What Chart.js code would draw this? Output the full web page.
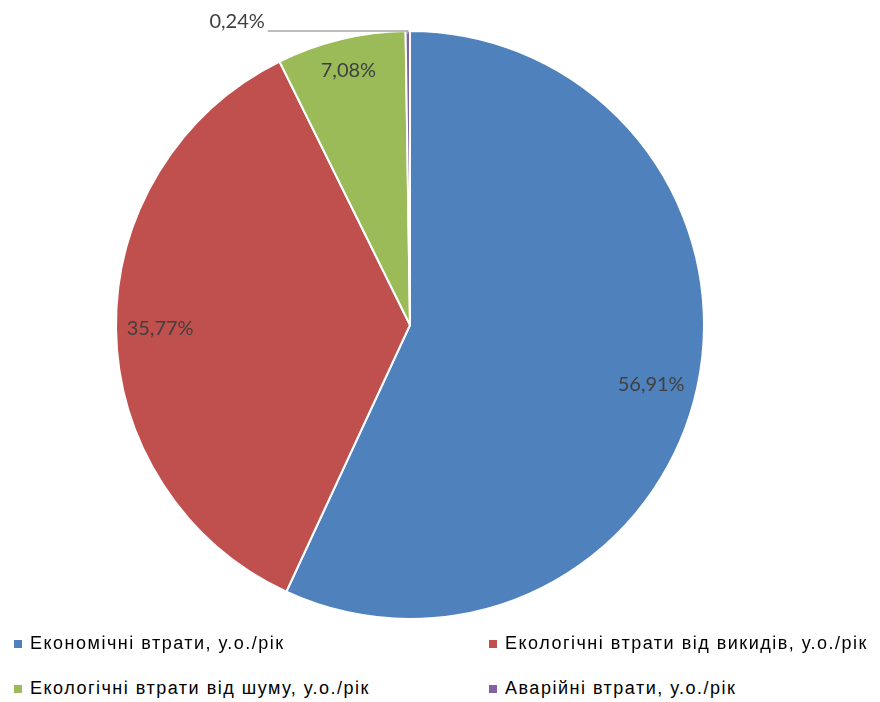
<!DOCTYPE html>
<html>
<head>
<meta charset="utf-8">
<script src="https://cdn.jsdelivr.net/npm/chart.js@4.4.1/dist/chart.umd.min.js"></script>
<style>
    body { margin: 0; background: #fff; }
    #wrap { position: relative; width: 880px; height: 702px; }
    #box { position: absolute; left: 0; top: 0; width: 820px; height: 650px; }
    .leg { position: absolute; font-family: "Liberation Sans", Arial, sans-serif; font-size: 18px; line-height: 21px; letter-spacing: 1.5px; color: #000; white-space: nowrap; }
    .leg i { position: absolute; left: -16px; top: 7px; width: 8px; height: 8px; }
</style>
</head>
<body>
<div id="wrap">
    <div id="box"><canvas id="myChart-pie"></canvas></div>
</div>
<script>
/*               pie chart for loss structure                           */

const categories = ['Економічні втрати, у.о./рік', 'Екологічні втрати від викидів, у.о./рік', 'Екологічні втрати від шуму, у.о./рік', 'Аварійні втрати, у.о./рік'];
const shares = [56.91, 35.77, 7.08, 0.24];
const shareLabels = ['56,91%', '35,77%', '7,08%', '0,24%'];
const colors = ['#4F81BD', '#C0504D', '#9BBB59', '#8064A2'];

// legend laid out in two columns under the pie
const legendSpots = [[30, 633], [505, 633], [30, 678], [505, 678]];
categories.forEach(function (name, i) {
    let d = document.createElement('div');
    d.className = 'leg';
    d.style.left = legendSpots[i][0] + 'px';
    d.style.top = legendSpots[i][1] + 'px';
    d.innerHTML = '<i style="background:' + colors[i] + '"></i>';
    d.appendChild(document.createTextNode(name));
    document.getElementById('wrap').appendChild(d);
});

// percent labels: inside the slice, tiny slice gets a leader line
const sliceLabels = {
    id: 'sliceLabels',
    afterDatasetsDraw(chart) {
        const c = chart.ctx;
        const arcs = chart.getDatasetMeta(0).data;
        const depth = [0.84, 0.85, 0.89];
        c.save();
        c.font = '20px Lato, "Liberation Sans", sans-serif';
        c.fillStyle = '#404040';
        c.textBaseline = 'middle';
        arcs.forEach(function (a, i) {
            const mid = (a.startAngle + a.endAngle) / 2;
            if (i < 3) {
                const r = a.outerRadius * depth[i];
                c.textAlign = 'center';
                c.fillText(shareLabels[i], a.x + Math.cos(mid) * r, a.y + Math.sin(mid) * r + (i === 0 ? 6 : 0));
            } else {
                const ex = a.x + Math.cos(mid) * a.outerRadius;
                const ey = a.y + Math.sin(mid) * a.outerRadius;
                c.strokeStyle = '#a6a6a6';
                c.lineWidth = 1.5;
                c.beginPath();
                c.moveTo(ex, ey + 3);
                c.lineTo(ex, ey);
                c.lineTo(ex - 140, ey);
                c.stroke();
                c.textAlign = 'right';
                c.fillText(shareLabels[i], ex - 143, ey - 9);
            }
        });
        c.restore();
    }
};

let ctx0 = document.getElementById('myChart-pie').getContext('2d');
var chart = new Chart(ctx0, {
    type: 'pie',
    data: {
        labels: categories,
        datasets: [{
            data: shares,
            backgroundColor: colors,
            borderColor: '#ffffff',
            borderWidth: 2
        }]
    },
    options: {
        responsive: true,
        maintainAspectRatio: false,
        animation: false,
        layout: { padding: 30 },
        plugins: {
            legend: { display: false },
            tooltip: { enabled: false }
        }
    },
    plugins: [sliceLabels]
});
</script>
</body>
</html>
